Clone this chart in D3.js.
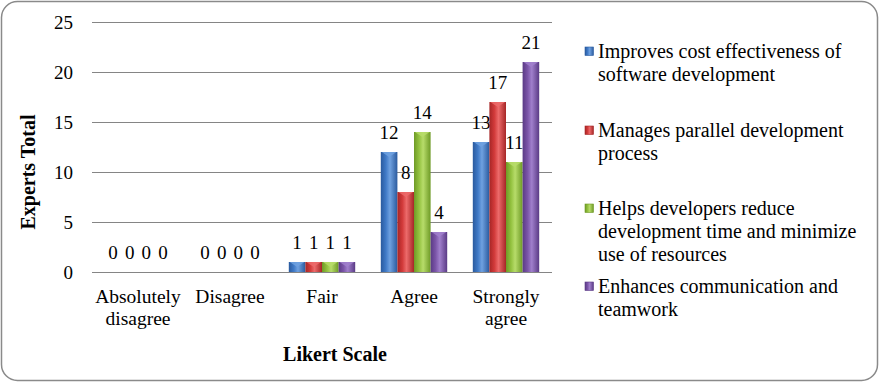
<!DOCTYPE html>
<html>
<head>
<meta charset="utf-8">
<script src="https://cdn.jsdelivr.net/npm/d3@7"></script>
<style>
  body { margin: 0; background: #fff; }
  svg text { font-family: 'Liberation Serif', 'DejaVu Serif', serif !important; fill: #000; }
</style>
</head>
<body>
<div id="vis"></div>
<script>
// data
var categories = ["Absolutely disagree", "Disagree", "Fair", "Agree", "Strongly agree"];
var categoryLines = [["Absolutely", "disagree"], ["Disagree"], ["Fair"], ["Agree"], ["Strongly", "agree"]];
var seriesNames = [
  "Improves cost effectiveness of software development",
  "Manages parallel development process",
  "Helps developers reduce development time and minimize use of resources",
  "Enhances communication and teamwork"
];
var legendLines = [
  ["Improves cost effectiveness of", "software development"],
  ["Manages parallel development", "process"],
  ["Helps developers reduce", "development time and minimize", "use of resources"],
  ["Enhances communication and", "teamwork"]
];
var costValues = [0, 0, 1, 12, 13];
var parallelValues = [0, 0, 1, 8, 17];
var timeValues = [0, 0, 1, 14, 11];
var teamValues = [0, 0, 1, 4, 21];
var yTicks = [0, 5, 10, 15, 20, 25];

var seriesValues = [costValues, parallelValues, timeValues, teamValues];
var colors = ["#3f79c6", "#d23a3a", "#93c13f", "#7b55a8"];
var darks = ["#2a5a9e", "#a62626", "#6e9a26", "#5a3a85"];
var lights = ["#6fa1e0", "#ec6a6a", "#b7dc6a", "#a07fcc"];

var W = 879, H = 382;
var margin = {top: 22, left: 92, right: 327, bottom: 110};
var width = W - margin.left - margin.right;
var height = H - margin.top - margin.bottom;

var svg = d3.select("#vis").append("svg")
    .attr("width", W).attr("height", H)
    .attr("font-family", "Liberation Serif");

// bar gradients
var defs = svg.append("defs");
colors.forEach(function(c, i) {
  var grad = defs.append("linearGradient").attr("id", "g" + i)
      .attr("x1", "0").attr("x2", "1").attr("y1", "0").attr("y2", "0");
  grad.append("stop").attr("offset", "0%").attr("stop-color", darks[i]);
  grad.append("stop").attr("offset", "30%").attr("stop-color", colors[i]);
  grad.append("stop").attr("offset", "55%").attr("stop-color", lights[i]);
  grad.append("stop").attr("offset", "100%").attr("stop-color", darks[i]);
});

// outer frame
svg.append("rect")
    .attr("x", 1.5).attr("y", 1.5)
    .attr("width", W - 3).attr("height", H - 3)
    .attr("rx", 16).attr("ry", 16)
    .attr("fill", "#fff").attr("stroke", "#8a8a8a").attr("stroke-width", 1.5);

var g = svg.append("g")
    .attr("transform", "translate(" + margin.left + "," + margin.top + ")");

var xScale = d3.scaleBand().domain(categories).range([0, width]).padding(0);
var yScale = d3.scaleLinear().domain([0, 25]).range([height, 0]);
var barW = 16.6;
var xInner = d3.scaleBand().domain(d3.range(4)).range([-2 * barW, 2 * barW]);

function barX(i, s) {
  return xScale(categories[i]) + xScale.bandwidth() / 2 + xInner(s);
}

// gridlines
g.selectAll(".grid").data(yTicks).enter().append("line")
    .attr("x1", 0).attr("x2", width)
    .attr("y1", function(d) { return yScale(d) + 0.5; })
    .attr("y2", function(d) { return yScale(d) + 0.5; })
    .attr("stroke", "#858585").attr("stroke-width", 1.2);

// y axis labels
var yAxis = d3.axisLeft(yScale).tickValues(yTicks).tickSize(0).tickPadding(19);
var ya = g.append("g").call(yAxis);
ya.select(".domain").remove();
ya.attr("font-family", "Liberation Serif").attr("font-size", 19);
ya.selectAll("text").attr("fill", "#000");

// x labels
var xl = g.selectAll(".xlab").data(categories).enter().append("text")
    .attr("text-anchor", "middle")
    .attr("font-size", "19.5px")
    .attr("transform", function(d) { return "translate(" + (xScale(d) + xScale.bandwidth() / 2) + "," + (height + 31) + ")"; });
xl.each(function(d, i) {
  var t = d3.select(this);
  categoryLines[i].forEach(function(line, j) {
    t.append("tspan").attr("x", 0).attr("y", j * 22).text(line);
  });
});

// bars
seriesValues.forEach(function(vals, s) {
  var grp = g.append("g");
  grp.selectAll("rect").data(vals).enter().append("rect")
      .attr("x", function(d, i) { return barX(i, s); })
      .attr("y", function(d) { return yScale(d); })
      .attr("width", barW)
      .attr("height", function(d) { return height - yScale(d); })
      .attr("fill", "url(#g" + s + ")");
  // top highlight
  grp.selectAll("path").data(vals).enter().append("path")
      .attr("d", function(d, i) {
        var x0 = barX(i, s);
        var y0 = yScale(d);
        return "M" + (x0 + 1) + "," + y0 + "L" + (x0 + barW - 1) + "," + y0 + "L" + (x0 + barW / 2) + "," + (y0 + 5) + "Z";
      })
      .attr("fill", lights[s])
      .attr("opacity", function(d) { return d > 0 ? 0.85 : 0; });
  grp.selectAll("text").data(vals).enter().append("text")
      .attr("x", function(d, i) { return barX(i, s) + barW / 2; })
      .attr("y", function(d) { return yScale(d) - 13; })
      .attr("text-anchor", "middle")
      .attr("font-size", "19px")
      .text(function(d) { return d; });
});

// y title
svg.append("text")
    .attr("transform", "translate(35,172) rotate(-90)")
    .attr("text-anchor", "middle")
    .attr("font-size", "20px").attr("font-weight", "bold")
    .text("Experts Total");

// x title
svg.append("text")
    .attr("x", 335).attr("y", 361)
    .attr("text-anchor", "middle")
    .attr("font-size", "20px").attr("font-weight", "bold")
    .text("Likert Scale");

// legend
var legendY = [58, 137, 215, 293];
var legend = svg.selectAll(".leg").data(seriesNames).enter().append("g")
    .attr("transform", function(d, i) { return "translate(585," + legendY[i] + ")"; });
legend.append("rect")
    .attr("x", 0).attr("y", -11).attr("width", 8.5).attr("height", 8.5)
    .attr("fill", function(d, i) { return "url(#g" + i + ")"; })
    .attr("stroke", function(d, i) { return darks[i]; }).attr("stroke-width", 0.6);
legend.append("text")
    .attr("font-size", "20px")
    .each(function(d, i) {
      var t = d3.select(this);
      legendLines[i].forEach(function(line, j) {
        t.append("tspan").attr("x", 13).attr("y", j * 23).text(line);
      });
    });
</script>
</body>
</html>
